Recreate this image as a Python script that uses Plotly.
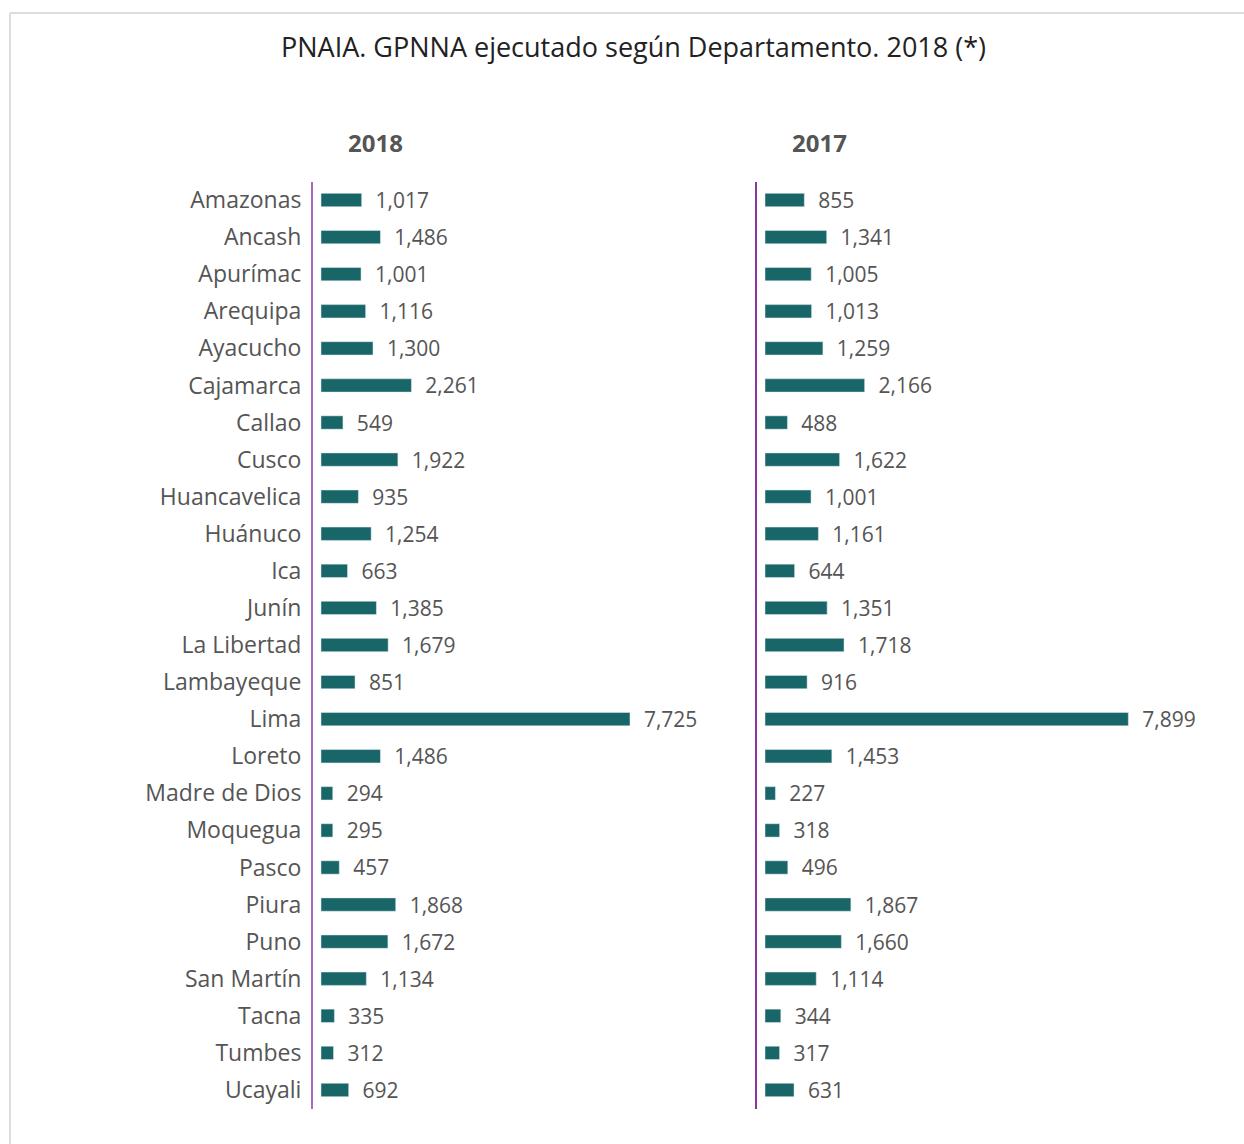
import plotly.graph_objects as go

departamentos = ["Amazonas", "Ancash", "Apurímac", "Arequipa", "Ayacucho", "Cajamarca", "Callao",
                 "Cusco", "Huancavelica", "Huánuco", "Ica", "Junín", "La Libertad", "Lambayeque",
                 "Lima", "Loreto", "Madre de Dios", "Moquegua", "Pasco", "Piura", "Puno",
                 "San Martín", "Tacna", "Tumbes", "Ucayali"]
valores_2018 = [1017, 1486, 1001, 1116, 1300, 2261, 549, 1922, 935, 1254, 663, 1385, 1679, 851,
                7725, 1486, 294, 295, 457, 1868, 1672, 1134, 335, 312, 692]
valores_2017 = [855, 1341, 1005, 1013, 1259, 2166, 488, 1622, 1001, 1161, 644, 1351, 1718, 916,
                7899, 1453, 227, 318, 496, 1867, 1660, 1114, 344, 317, 631]

W, H = 1244, 1144
BAR = "#186668"
TXT = "#555555"
FONT = "'Open Sans', sans-serif"

def px_x(p):
    return p / W

def px_y(p):
    return 1 - p / H

fig = go.Figure()
for vals, xa, ya in [(valores_2018, "x", "y"), (valores_2017, "x2", "y2")]:
    fig.add_trace(go.Bar(y=departamentos, x=vals, orientation="h", marker_color=BAR,
                         texttemplate="\u00a0\u00a0%{x:,}", textposition="outside",
                         constraintext="none", cliponaxis=False,
                         textfont=dict(size=21, color=TXT, family=FONT),
                         xaxis=xa, yaxis=ya, showlegend=False, hoverinfo="x+y"))

ydom = [px_y(1108.5), px_y(181.5)]
s1 = 0.040  # px per unit, left panel
s2 = 0.046  # px per unit, right panel
x1_lo, x1_hi = 313, 740
x2_lo, x2_hi = 757, 1244
fig.update_layout(
    width=W, height=H,
    margin=dict(l=0, r=0, t=0, b=0),
    paper_bgcolor="white", plot_bgcolor="white",
    bargap=0.64,
    font=dict(family=FONT, color=TXT),
    xaxis=dict(domain=[px_x(x1_lo), px_x(x1_hi)],
               range=[-8 / s1, (x1_hi - x1_lo - 8) / s1],
               visible=False, anchor="y"),
    xaxis2=dict(domain=[px_x(x2_lo), px_x(x2_hi)],
                range=[-8 / s2, (x2_hi - x2_lo - 8) / s2],
                visible=False, anchor="y2"),
    yaxis=dict(domain=ydom, anchor="x", autorange="reversed", showline=True,
               linecolor="#a66bbf", linewidth=2, showgrid=False, ticks="",
               tickfont=dict(size=23, color=TXT, family=FONT), ticklabelstandoff=5),
    yaxis2=dict(domain=ydom, anchor="x2", autorange="reversed", showline=True,
                linecolor="#8a35a0", linewidth=2, showgrid=False, ticks="",
                showticklabels=False),
    annotations=[
        dict(text="PNAIA. GPNNA ejecutado según Departamento. 2018 (*)", x=px_x(633), y=px_y(46),
             xref="paper", yref="paper", showarrow=False, xanchor="center", yanchor="middle",
             font=dict(size=27, color="#222222", family=FONT)),
        dict(text="<b>2018</b>", x=px_x(375), y=px_y(142), xref="paper", yref="paper",
             showarrow=False, xanchor="center", yanchor="middle",
             font=dict(size=24, color=TXT, family=FONT)),
        dict(text="<b>2017</b>", x=px_x(819), y=px_y(142), xref="paper", yref="paper",
             showarrow=False, xanchor="center", yanchor="middle",
             font=dict(size=24, color=TXT, family=FONT)),
    ],
    shapes=[
        dict(type="line", xref="paper", yref="paper", x0=px_x(10), x1=1, y0=px_y(13), y1=px_y(13),
             line=dict(color="#dddddd", width=2)),
        dict(type="line", xref="paper", yref="paper", x0=px_x(10), x1=px_x(10), y0=px_y(13), y1=0,
             line=dict(color="#dddddd", width=2)),
    ],
)

fig.write_html("out.html", config={"displayModeBar": False},
               post_script="document.body.style.margin='0';")
